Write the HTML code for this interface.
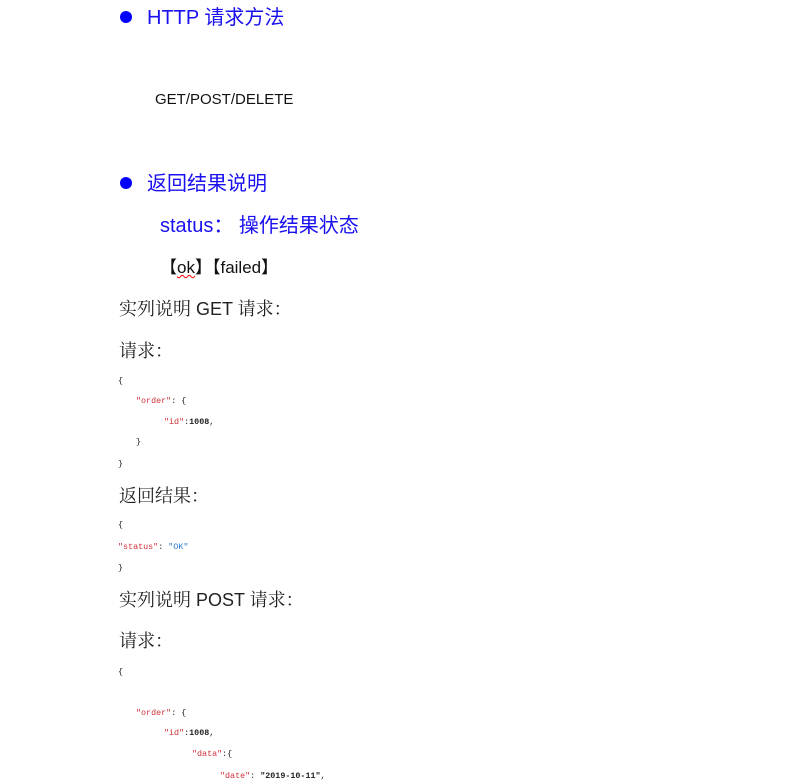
<!DOCTYPE html>
<html><head><meta charset="utf-8"><style>
body{margin:0;width:787px;height:784px;background:#fff;position:relative;overflow:hidden;font-family:"Liberation Sans","Noto Sans CJK SC",sans-serif}
.t{position:absolute;white-space:pre;line-height:1}
.h{font-size:20px;color:#1a10f0}
.dot{position:absolute;width:12px;height:12px;border-radius:50%;background:#0000ff}
.c{position:absolute;white-space:pre;font-family:"Liberation Mono",monospace;font-size:8.4px;line-height:1;color:#222}
.n{font-weight:bold}
.k{color:#d0303a}
.s{color:#2a7ad0}
.b{color:#222;font-size:18px;font-family:"Liberation Sans","Noto Serif CJK SC",serif}
</style></head><body>
<div class="dot" style="left:120px;top:11px"></div>
<div class="t h" style="left:147px;top:8px">HTTP 请求方法</div>
<div class="t" style="left:155px;top:92px;font-size:15px;color:#111">GET/POST/DELETE</div>
<div class="dot" style="left:120px;top:177px"></div>
<div class="t h" style="left:147px;top:174px">返回结果说明</div>
<div class="t h" style="left:160px;top:216px">status： 操作结果状态</div>
<div class="t" style="left:160px;top:259px;font-size:17px;color:#111">【<span style="text-decoration:underline wavy red;text-decoration-thickness:1px">ok</span>】【failed】</div>
<div class="t b" style="left:119px;top:300px">实列说明 GET 请求：</div>
<div class="t b" style="left:119px;top:342px">请求：</div>
<div class="c" style="left:118px;top:377px">{</div>
<div class="c" style="left:136px;top:397px"><span class="k">"order"</span>: {</div>
<div class="c" style="left:164px;top:418px"><span class="k">"id"</span>:<span class="n">1008</span>,</div>
<div class="c" style="left:136px;top:438px">}</div>
<div class="c" style="left:118px;top:460px">}</div>
<div class="t b" style="left:119px;top:487px">返回结果：</div>
<div class="c" style="left:118px;top:521px">{</div>
<div class="c" style="left:118px;top:543px"><span class="k">"status"</span>: <span class="s">"OK"</span></div>
<div class="c" style="left:118px;top:564px">}</div>
<div class="t b" style="left:119px;top:591px">实列说明 POST 请求：</div>
<div class="t b" style="left:119px;top:632px">请求：</div>
<div class="c" style="left:118px;top:668px">{</div>
<div class="c" style="left:136px;top:709px"><span class="k">"order"</span>: {</div>
<div class="c" style="left:164px;top:729px"><span class="k">"id"</span>:<span class="n">1008</span>,</div>
<div class="c" style="left:192px;top:750px"><span class="k">"data"</span>:{</div>
<div class="c" style="left:220px;top:772px"><span class="k">"date"</span>: <span class="n">"2019-10-11"</span>,</div>
</body></html>
